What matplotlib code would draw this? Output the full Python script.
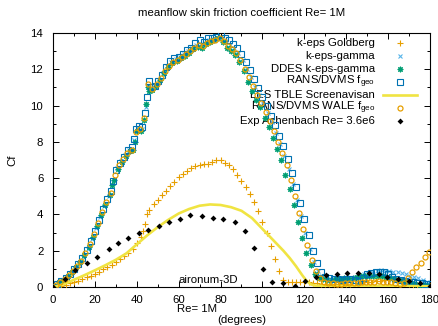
import matplotlib
matplotlib.use("Agg")
import matplotlib.pyplot as plt
from matplotlib.ticker import MultipleLocator

plt.rcParams['font.family'] = ['Liberation Sans', 'DejaVu Sans']
plt.rcParams['mathtext.fontset'] = 'custom'
plt.rcParams['mathtext.rm'] = 'Liberation Sans'

# ---------------- data ----------------
# k-eps Goldberg (orange +)
gold_x = [0, 2, 4, 6, 8, 10, 12, 14, 16, 18, 20, 22, 24, 26, 28, 30, 32, 34, 36, 38, 40, 42, 43, 44, 44.8,
          46, 48, 50, 52, 54, 56, 58, 60, 62, 64, 66, 68, 70, 72, 74, 76, 78, 80, 82, 84, 86, 88, 90, 92,
          94, 96, 98, 100, 102, 104, 106, 108, 110, 112, 114, 116, 118, 120, 122, 124, 126, 128, 130, 132,
          134, 136, 138, 140, 142, 144, 146, 148, 150, 152, 154, 156, 158, 160, 162, 164, 166, 168, 170,
          172, 174, 176, 178, 180]
gold_y = [0, 0.03, 0.08, 0.13, 0.2, 0.27, 0.35, 0.44, 0.53, 0.63, 0.74, 0.85, 0.97, 1.1, 1.23, 1.37, 1.52,
          1.7, 1.9, 2.12, 2.4, 2.75, 3.1, 3.5, 4.0,
          4.25, 4.55, 4.8, 5.05, 5.3, 5.55, 5.8, 6.05, 6.25, 6.4, 6.55, 6.65, 6.75, 6.8, 6.8, 6.9, 7.0, 7.0,
          6.85, 6.7, 6.5, 6.2, 5.85, 5.5, 5.1, 4.7, 4.2, 3.6, 2.95, 2.25, 1.55, 0.9, 0.4, 0.25, 0.28, 0.3,
          0.3, 0.28, 0.25, 0.22, 0.2, 0.18, 0.15, 0.15, 0.15, 0.15, 0.15, 0.15, 0.18, 0.2, 0.22, 0.25, 0.28,
          0.3, 0.32, 0.35, 0.38, 0.4, 0.4, 0.38, 0.3, 0.2, 0.15, 0.12, 0.1, 0.08, 0.06, 0.05]

# k-eps-gamma (light blue x)
gam_x = [0.5, 2.5, 4.5, 6.5, 8.5, 10.5, 12.5, 14.5, 16.5, 18.5, 20.5, 22.5, 24.5, 26.5, 28.5, 30.5, 32.5,
         34.5, 36.5, 38.5, 40.5, 42.5, 44.5, 46.5, 48.5, 50.5, 52.5, 54.5, 56.5, 58.5, 60.5, 62.5, 64.5,
         66.5, 68.5, 70.5, 72.5, 74.5, 76.5, 78.5, 80.5, 82.5, 84.5, 86.5, 88.5, 90.5, 92.5, 94.5, 96.5,
         98.5, 100.5, 102.5, 104.5, 106.5, 108.5, 110.5, 112.5, 114.5, 116.5, 118.5, 120.5, 122.5, 124.5,
         126.5, 128.5, 130.5, 132.5, 134.5, 136.5, 138.5, 140.5, 142.5, 144.5, 146.5, 148.5, 150.5, 152.5,
         154.5, 156.5, 158.5, 160.5, 162.5, 164.5, 166.5, 168.5, 170.5, 172.5, 174.5, 176.5, 178.5]
gam_y = [0.05, 0.22, 0.38, 0.56, 0.78, 1.03, 1.3, 1.68, 2.1, 2.65, 3.25, 3.85, 4.45, 5.0, 5.8, 6.55, 6.95,
         7.25, 7.55, 8.1, 8.75, 8.7, 9.9, 10.95, 11.05, 11.4, 11.8, 12.2, 12.4, 12.55, 12.7, 12.85, 13.0,
         13.2, 13.35, 13.4, 13.45, 13.6, 13.65, 13.75, 13.75, 13.55, 13.35, 13.15, 12.9, 12.5, 12.0, 11.55,
         11.05, 10.6, 10.1, 9.6, 9.1, 8.5, 7.9, 7.2, 6.5, 5.7, 4.8, 3.9, 3.0, 2.1, 1.4, 0.9, 0.6, 0.5,
         0.45, 0.42, 0.4, 0.42, 0.45, 0.5, 0.55, 0.6, 0.7, 0.78, 0.85, 0.9, 0.92, 0.9, 0.88, 0.85, 0.8,
         0.75, 0.7, 0.62, 0.55, 0.48, 0.4, 0.3]

# DDES k-eps-gamma (green asterisk)
ddes_x = [1, 3, 5, 7, 9, 11, 13, 15, 17, 19, 21, 23, 25, 27, 28.2, 29, 31, 33, 35, 37, 38, 39, 40, 42,
          43.5, 44.5, 45.2, 46, 47.5, 49, 51, 53, 55, 57, 59, 61, 63, 65, 67, 69, 71, 73, 75, 77, 79, 81,
          83, 85, 87, 89, 91, 93, 95, 97, 99, 101, 103, 105, 107, 109, 111, 113, 115, 117, 119, 121, 123,
          125, 127, 129, 131, 133, 135, 137, 139, 141, 143, 145, 147, 149, 151, 153, 155, 157, 159, 161,
          163, 165, 167, 169, 171, 173, 175, 177, 179]
ddes_y = [0.08, 0.25, 0.4, 0.58, 0.82, 1.08, 1.38, 1.75, 2.2, 2.75, 3.35, 3.95, 4.5, 5.05, 5.6, 5.9, 6.5,
          6.9, 7.2, 7.5, 7.55, 8.0, 8.6, 8.6, 9.2, 10.1, 11.0, 10.8, 10.85, 11.1, 11.4, 11.8, 12.1, 12.35,
          12.45, 12.6, 12.75, 12.9, 13.1, 13.25, 13.2, 13.4, 13.5, 13.6, 13.7, 13.5, 13.2, 13.0, 12.8,
          12.4, 11.9, 11.3, 10.8, 10.3, 9.9, 9.3, 8.8, 8.2, 7.6, 7.0, 6.2, 5.4, 4.5, 3.6, 2.7, 1.9, 1.2,
          0.7, 0.5, 0.42, 0.4, 0.4, 0.42, 0.45, 0.48, 0.5, 0.52, 0.55, 0.58, 0.6, 0.62, 0.62, 0.6, 0.58,
          0.55, 0.5, 0.45, 0.4, 0.35, 0.28, 0.2, 0.15, 0.12, 0.1, 0.08]

# RANS/DVMS f_geo (blue open squares)
fgeo_x = [0, 2, 4, 6, 8, 10, 12, 14, 16, 18, 20, 22, 24, 26, 27.5, 28.5, 30, 32, 34, 36, 37.5, 38.5,
          39.5, 41, 42.5, 44, 44.8, 45.6, 47, 48.5, 50, 52, 54, 56, 58, 60, 62, 64, 66, 68, 70, 72, 74,
          76, 78, 80, 82, 84, 86, 88, 90, 92, 94, 96, 98, 100, 102, 104, 106, 108, 110, 112, 114, 116,
          118, 120, 122, 124, 126, 128, 130, 132, 134, 136, 138, 140, 142, 144, 146, 148, 150, 152, 154,
          156, 158, 160, 162, 164, 166, 168, 170, 172, 174, 176, 178, 180]
fgeo_y = [0, 0.18, 0.34, 0.52, 0.72, 0.98, 1.25, 1.6, 2.02, 2.52, 3.1, 3.72, 4.3, 4.85, 5.3, 5.85, 6.45,
          6.85, 7.15, 7.55, 7.7, 8.15, 8.7, 8.85, 8.8, 9.6, 10.45, 11.35, 11.0, 11.1, 11.35, 11.7, 12.15,
          12.45, 12.6, 12.65, 12.85, 13.05, 13.2, 13.45, 13.6, 13.5, 13.7, 13.75, 13.8, 13.95, 13.75, 13.6,
          13.4, 13.2, 12.85, 12.4, 11.95, 11.45, 10.95, 10.5, 10.0, 9.45, 8.95, 8.35, 7.75, 7.05, 6.3,
          5.5, 4.65, 3.75, 2.85, 2.0, 1.3, 0.8, 0.55, 0.48, 0.45, 0.42, 0.4, 0.42, 0.45, 0.4, 0.35, 0.5,
          0.7, 0.78, 0.82, 0.85, 0.82, 0.7, 0.55, 0.45, 0.38, 0.32, 0.28, 0.25, 0.22, 0.2, 0.18, 0.15]

# LES TBLE Screenavisan (yellow line)
les_x = [0, 5, 10, 15, 20, 25, 30, 35, 40, 45, 50, 55, 60, 65, 70, 75, 80, 85, 90, 95, 100, 105, 110,
         113, 116, 119, 121, 123, 125, 130, 140, 150, 160, 170, 180]
les_y = [0.0, 0.15, 0.4, 0.65, 0.92, 1.2, 1.5, 1.85, 2.35, 2.85, 3.3, 3.7, 4.05, 4.3, 4.48, 4.55, 4.52,
         4.4, 4.2, 3.8, 3.2, 2.6, 2.0, 1.6, 1.15, 0.65, 0.35, 0.15, 0.08, 0.05, 0.05, 0.06, 0.06, 0.05,
         0.04]

# RANS/DVMS WALE f_geo (orange open circles)
wale_x = [1.5, 3.5, 5.5, 7.5, 9.5, 11.5, 13.5, 15.5, 17.5, 19.5, 21.5, 23.5, 25.5, 27.5, 29.5, 31.5,
          33.5, 35.5, 37.5, 39.5, 41.5, 43.5, 45.5, 47.5, 49.5, 51.5, 53.5, 55.5, 57.5, 59.5, 61.5, 63.5,
          65.5, 67.5, 69.5, 71.5, 73.5, 75.5, 77.5, 79.5, 81.5, 83.5, 85.5, 87.5, 89.5, 91.5, 93.5, 95.5,
          97.5, 99.5, 101.5, 103.5, 105.5, 107.5, 109.5, 111.5, 113.5, 115.5, 117.5, 119.5, 121.5, 123.5,
          125.5, 127.5, 129.5, 131.5, 133.5, 135.5, 137.5, 139.5, 141.5, 143.5, 145.5, 147.5, 149.5,
          151.5, 153.5, 155.5, 157.5, 159.5, 161.5, 163.5, 165.5, 167.5, 169.5, 171.5, 173.5, 175.5,
          177.5, 179.5]
wale_y = [0.1, 0.28, 0.45, 0.65, 0.9, 1.15, 1.45, 1.85, 2.35, 2.9, 3.55, 4.15, 4.7, 5.2, 6.2, 6.75, 7.05,
          7.4, 7.55, 8.55, 8.7, 9.3, 11.2, 10.9, 11.2, 11.5, 11.9, 12.2, 12.4, 12.5, 12.65, 12.85, 13.0,
          13.2, 13.35, 13.3, 13.45, 13.55, 13.6, 13.7, 13.55, 13.3, 13.1, 12.9, 12.5, 12.0, 11.6, 11.1,
          10.6, 10.15, 9.65, 9.15, 8.6, 8.0, 7.4, 6.7, 5.9, 5.0, 4.1, 3.2, 2.3, 1.5, 0.9, 0.5, 0.3, 0.22,
          0.2, 0.18, 0.18, 0.2, 0.2, 0.22, 0.22, 0.25, 0.28, 0.3, 0.3, 0.32, 0.3, 0.28, 0.25, 0.22, 0.18,
          0.2, 0.5, 0.8, 1.1, 1.35, 1.65, 1.95]

# Exp Achenbach Re= 3.6e6 (black diamonds)
exp_x = [0, 5.5, 10.5, 16, 21, 26.5, 31, 36, 41, 45.5, 50.5, 55.5, 60.5, 65.5, 71, 76.5, 81, 87, 91.5,
         96, 100.5, 104.5, 110, 115.5, 120.5, 125.5, 130.5, 135.5, 140.5, 145.5, 151, 155.5, 159.5,
         164.5, 170, 175, 180]
exp_y = [0, 0.46, 0.94, 1.3, 1.67, 2.1, 2.45, 2.72, 2.96, 3.14, 3.36, 3.56, 3.75, 3.95, 3.91, 3.78,
         3.73, 3.56, 3.1, 2.13, 0.97, 0.29, 0.2, 0.03, 0.32, 0.55, 0.68, 0.74, 0.75, 0.75, 0.75, 0.73,
         0.57, 0.46, 0.35, 0.2, 0.05]

labels = ["k-eps Goldberg", "k-eps-gamma", "DDES k-eps-gamma",
          "RANS/DVMS f$_{\\mathregular{geo}}$", "LES TBLE Screenavisan",
          "RANS/DVMS WALE f$_{\\mathregular{geo}}$", "Exp Achenbach Re= 3.6e6"]

x_ticks = [0, 20, 40, 60, 80, 100, 120, 140, 160, 180]
y_ticks = [0, 2, 4, 6, 8, 10, 12, 14]

# ---------------- styles ----------------
styles = [
    dict(ls='none', marker='+', ms=4.0, mew=0.8, color='#E69F00'),
    dict(ls='none', marker='x', ms=3.4, mew=0.8, color='#56B4E9'),
    dict(ls='none', marker=(8, 2, 0), ms=4.0, mew=0.8, color='#009E73'),
    dict(ls='none', marker='s', ms=4.3, mew=0.8, mfc='none', color='#0072B2'),
    dict(ls='-', lw=1.9, color='#F0E442'),
    dict(ls='none', marker='o', ms=3.6, mew=0.9, mfc='none', color='#E69F00'),
    dict(ls='none', marker='D', ms=3.0, mew=0.0, color='black'),
]
series = [(gold_x, gold_y), (gam_x, gam_y), (ddes_x, ddes_y), (fgeo_x, fgeo_y),
          (les_x, les_y), (wale_x, wale_y), (exp_x, exp_y)]

W, H = 439, 326
fig = plt.figure(figsize=(W / 100, H / 100), dpi=100)
ax = fig.add_axes([53 / W, 1 - 287 / H, 377 / W, 254 / H])

for (xs, ys), st in zip(series, styles):
    ax.plot(xs, ys, zorder=3, clip_on=True, **st)

ax.set_xlim(0, 180)
ax.set_ylim(0, 14)
ax.set_xticks(x_ticks)
ax.set_yticks(y_ticks)
ax.xaxis.set_minor_locator(MultipleLocator(10))
ax.yaxis.set_minor_locator(MultipleLocator(1))
ax.tick_params(which='both', direction='in', top=True, right=True, labelsize=8.2,
               colors='black', width=0.7)
ax.tick_params(which='major', length=4)
ax.tick_params(which='minor', length=2)
ax.tick_params(axis='x', pad=6)
ax.tick_params(axis='y', pad=7)
for sp in ax.spines.values():
    sp.set_linewidth(0.8)
    sp.set_color('black')

# manual gnuplot-style key (text right-justified, sample to the right)
y0 = (287 - 43) / 254
dy = 13.0 / 254
tx = (375 - 53) / 377
mx = (400 - 53) / 377
for i, (lab, st) in enumerate(zip(labels, styles)):
    yy = y0 - i * dy
    ax.text(tx, yy, lab, transform=ax.transAxes, ha='right', va='center', fontsize=8.2,
            zorder=1)
    if st.get('ls') == '-':
        ax.plot([(383 - 53) / 377, (417 - 53) / 377], [yy, yy], transform=ax.transAxes,
                clip_on=False, zorder=3, **st)
    else:
        ax.plot([mx], [yy], transform=ax.transAxes, clip_on=False, zorder=3, **st)

ax.text(74, 0.1, "aironum-3D", ha='center', va='bottom', fontsize=8.2, zorder=1)

fig.text(242 / W, 1 - 13 / H, "meanflow skin friction coefficient Re= 1M", ha='center',
         va='center', fontsize=8.2)
fig.text(197 / W, 1 - 309 / H, "Re= 1M", ha='center', va='center', fontsize=8.2)
fig.text(242 / W, 1 - 320 / H, "(degrees)", ha='center', va='center', fontsize=8.2)
fig.text(12 / W, 1 - 160 / H, "Cf", ha='center', va='center', rotation=90, fontsize=8.2)

fig.savefig("out.png", dpi=100)
